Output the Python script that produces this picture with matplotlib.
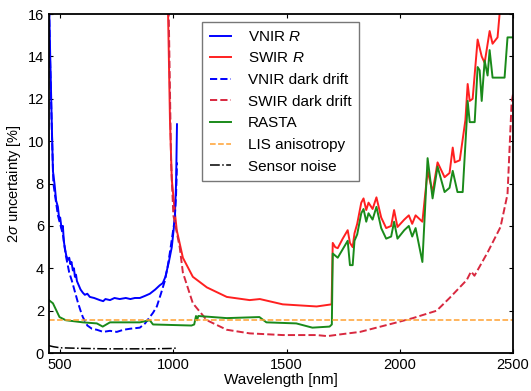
import matplotlib
matplotlib.use("Agg")
import matplotlib.pyplot as plt

plt.rcParams['font.family'] = ['Liberation Sans', 'DejaVu Sans']
plt.rcParams['mathtext.fontset'] = 'custom'
plt.rcParams['mathtext.it'] = 'Liberation Sans:italic'
plt.rcParams['mathtext.rm'] = 'Liberation Sans'

# VNIR reflectance uncertainty
vnir_wl = [450, 455, 463, 468, 476, 482, 490, 496, 500, 506, 512, 516, 520, 527, 534, 540,
           545, 550, 556, 561, 565, 570, 574, 582, 590, 600, 609, 620, 631, 650, 675, 690,
           700, 720, 740, 763, 790, 810, 830, 852, 875, 896, 920, 940, 953, 965, 980, 993,
           1006, 1012, 1016]
vnir_r = [17, 14.5, 10.8, 8.6, 7.9, 7.2, 6.9, 6.3, 6.4, 5.9, 6.0, 5.3, 5.0, 4.6, 4.4, 4.5,
          4.2, 4.3, 3.9, 4.0, 3.6, 3.7, 3.4, 3.2, 3.0, 2.85, 2.75, 2.8, 2.65, 2.6, 2.5, 2.45,
          2.55, 2.5, 2.6, 2.55, 2.6, 2.55, 2.6, 2.6, 2.7, 2.8, 3.0, 3.2, 3.3, 3.6, 4.3, 5.0,
          6.3, 8.0, 10.8]

vnir_dd_wl = [450, 455, 463, 470, 490, 512, 525, 540, 552, 565, 578, 590, 600, 620, 640,
              662, 690, 720, 750, 780, 810, 852, 875, 896, 910, 927, 945, 962, 975, 984,
              995, 1006, 1012, 1016]
vnir_dd = [17, 14, 10.6, 8.0, 6.5, 5.6, 4.6, 3.8, 3.4, 2.9, 2.4, 2.0, 1.7, 1.3, 1.15,
           1.1, 1.0, 1.05, 1.0, 1.1, 1.15, 1.2, 1.4, 1.7, 1.9, 2.2, 2.8, 3.4, 4.1, 4.7,
           5.5, 6.3, 7.5, 9.0]

# SWIR reflectance uncertainty and RASTA
swir_wl = [975, 985, 993, 1006, 1015, 1042, 1086, 1148, 1236, 1337, 1382, 1483, 1633, 1699,
           1704, 1715, 1726, 1748, 1770, 1780, 1792, 1800, 1812, 1830, 1840, 1852, 1862,
           1880, 1897, 1918, 1940, 1962, 1975, 1990, 2020, 2040, 2055, 2070, 2100, 2123,
           2145, 2167, 2198, 2220, 2234, 2243, 2265, 2290, 2300, 2309, 2322, 2344, 2362,
           2375, 2397, 2410, 2432, 2445, 2500]
swir_r = [17, 11, 8.2, 6.7, 5.8, 4.5, 3.6, 3.1, 2.65, 2.5, 2.55, 2.3, 2.2, 2.3,
          5.2, 5.0, 4.95, 5.4, 5.8, 5.2, 5.0, 5.65, 6.1, 7.1, 7.3, 6.75, 7.1,
          6.8, 7.35, 6.4, 5.9, 6.0, 6.75, 5.95, 6.3, 6.5, 6.1, 6.5, 6.2, 8.6,
          7.6, 9.0, 8.3, 8.5, 9.7, 9.0, 9.1, 11.0, 12.7, 11.9, 12.0, 14.8, 14.0,
          13.7, 15.2, 14.6, 14.9, 16.5, 18]

rasta_wl = [450, 468, 497, 525, 600, 662, 688, 720, 795, 852, 896, 910, 1080, 1092, 1100,
            1105, 1110, 1236, 1380, 1411, 1543, 1614, 1690, 1700,
            1704, 1715, 1726, 1748, 1770, 1780, 1792, 1800, 1812, 1830, 1840, 1852, 1862,
            1880, 1897, 1918, 1940, 1962, 1975, 1990, 2020, 2040, 2055, 2070, 2100, 2123,
            2145, 2167, 2198, 2220, 2234, 2255, 2278, 2296, 2300, 2309, 2331, 2344, 2353,
            2362, 2375, 2388, 2397, 2410, 2463, 2476, 2500]
rasta = [2.5, 2.35, 1.7, 1.55, 1.45, 1.4, 1.25, 1.45, 1.45, 1.45, 1.55, 1.35, 1.3, 1.35, 1.75,
         1.55, 1.75, 1.65, 1.7, 1.45, 1.4, 1.2, 1.25, 1.35,
         4.7, 4.6, 4.5, 4.9, 5.3, 4.15, 4.15, 5.3, 5.6, 6.6, 6.8, 6.2, 6.6,
         6.3, 6.9, 5.9, 5.4, 5.5, 6.2, 5.4, 5.8, 6.0, 5.5, 5.9, 4.3, 9.2,
         7.3, 8.8, 7.6, 7.8, 8.6, 7.6, 7.6, 11.0, 11.9, 10.9, 10.9, 13.5, 13.35,
         11.9, 13.8, 13.1, 14.3, 13.0, 13.0, 14.9, 14.9]

swir_dd_wl = [978, 990, 1000, 1028, 1042, 1086, 1148, 1236, 1337, 1483, 1633, 1680, 1750,
              1825, 1970, 2058, 2163, 2220, 2296, 2315, 2330, 2388, 2445, 2476, 2494, 2500]
swir_dd = [17, 9, 6.5, 5.0, 3.8, 2.35, 1.55, 1.1, 0.93, 0.85, 0.85, 0.8, 0.9,
           1.0, 1.4, 1.65, 2.0, 2.6, 3.45, 3.85, 3.65, 4.75, 5.95, 7.5, 11.8, 12.2]

lis_wl = [450, 2500]
lis = [1.56, 1.56]

noise_wl = [450, 470, 500, 600, 700, 800, 900, 1000, 1020]
noise = [0.35, 0.3, 0.25, 0.22, 0.2, 0.2, 0.2, 0.22, 0.25]

fig = plt.figure(figsize=(5.31, 3.91), dpi=100)
ax = fig.add_axes([0.092, 0.097, 0.874, 0.867])

ax.plot(vnir_wl, vnir_r, color='#0000ff', lw=1.4, label='VNIR $R$')
ax.plot(swir_wl, swir_r, color='#ff2020', lw=1.4, label='SWIR $R$')
ax.plot(vnir_dd_wl, vnir_dd, color='#0000ff', lw=1.4, ls='--', label='VNIR dark drift')
ax.plot(swir_dd_wl, swir_dd, color='#d8283f', lw=1.4, ls='--', label='SWIR dark drift')
ax.plot(rasta_wl, rasta, color='#1a8a1a', lw=1.4, label='RASTA')
ax.plot(lis_wl, lis, color='#ffa030', lw=1.1, ls='--', label='LIS anisotropy')
ax.plot(noise_wl, noise, color='k', lw=1.1, ls='-.', label='Sensor noise')

ax.set_xlim(450, 2500)
ax.set_ylim(0, 16)
ax.set_xticks([500, 1000, 1500, 2000, 2500])
ax.set_yticks([0, 2, 4, 6, 8, 10, 12, 14, 16])
ax.tick_params(direction='in', top=True, right=True, labelsize=10.5, length=3)
for s in ax.spines.values():
    s.set_linewidth(1.3)
ax.set_xlabel('Wavelength [nm]', fontsize=11, labelpad=1)
ax.set_ylabel(r'2$\sigma$ uncertainty [%]', fontsize=10.5, labelpad=3)

leg = ax.legend(loc='upper left', bbox_to_anchor=(0.33, 0.976), borderaxespad=0,
                fontsize=11, handlelength=1.4, labelspacing=0.5, fancybox=False,
                borderpad=0.5, handletextpad=1.1)
leg.get_frame().set_edgecolor('#555555')
leg.get_frame().set_linewidth(1.0)

fig.savefig('out.png', dpi=100)
